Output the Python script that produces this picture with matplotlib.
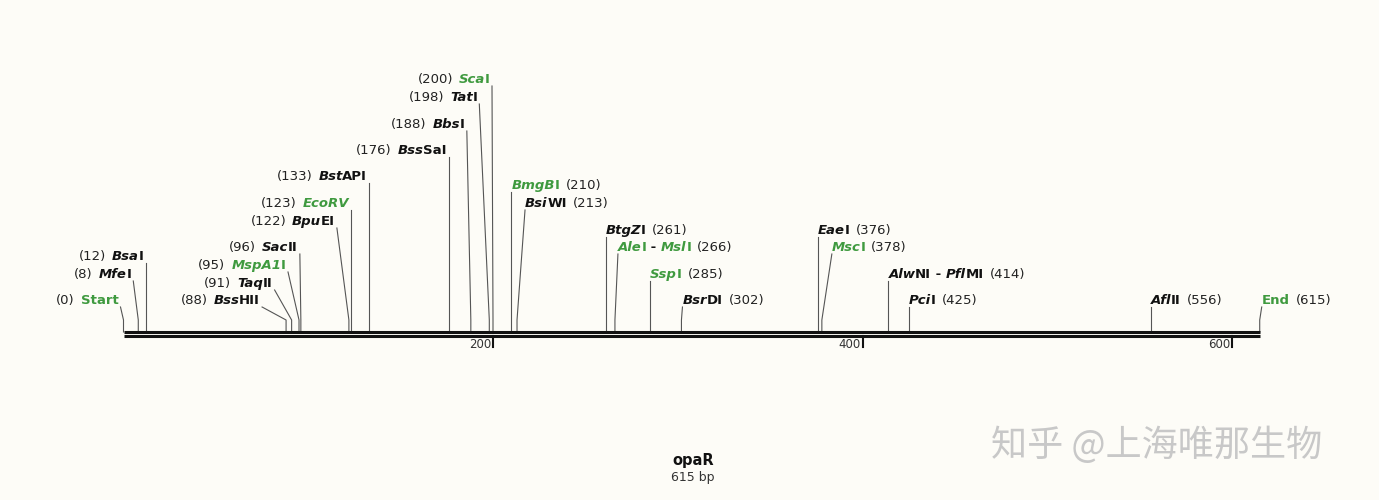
import matplotlib
matplotlib.use("Agg")
import matplotlib.pyplot as plt

seq_len = 615
seq_name = "opaR"
enzymes = ["Start", "Mfe|I", "Bsa|I", "Bss|HII", "Taq|II", "MspA1|I", "Sac|II", "Bpu|EI",
           "EcoRV|", "Bst|API", "Bss|SaI", "Bbs|I", "Tat|I", "Sca|I",
           "BmgB|I", "Bsi|WI", "BtgZ|I", "Ale|I;Msl|I", "Ssp|I", "Bsr|DI", "Eae|I", "Msc|I",
           "Alw|NI;Pfl|MI", "Pci|I", "Afl|II", "End"]
positions = [0, 8, 12, 88, 91, 95, 96, 122, 123, 133, 176, 188, 198, 200,
             210, 213, 261, 266, 285, 302, 376, 378, 414, 425, 556, 615]
label_y = [300, 274, 256, 300, 283, 265, 247, 221, 203, 176, 150, 124, 97, 79,
           185, 203, 230, 247, 274, 300, 230, 247, 274, 300, 300, 300]
sides = ["L"] * 14 + ["R"] * 12
green = [True, False, False, False, False, True, False, False, True, False, False, False, False, True,
         True, False, False, True, True, False, False, True, False, False, False, True]
shift = [-3, -5, 0, -24, -17, -11, -1, -12, 0, 0, 0, -4, -10, -1,
         0, 8, 0, 3, 0, 1, 0, 10, 0, 0, 0, 2]
ticks = [200, 400, 600]

GREEN = "#3f9a3f"
BG = "#fdfcf7"
fig = plt.figure(figsize=(13.79, 5.0), dpi=100, facecolor=BG)
ax = fig.add_axes([0, 0, 1, 1])
ax.set_facecolor(BG)
X0, K = 123.5, 1.8475
ax.set_xlim(-X0 / K, (1379 - X0) / K)
ax.set_ylim(500, 0)
ax.axis("off")
renderer = fig.canvas.get_renderer()
AX_Y = 332
FS = 9.5
GAP = 6

def px2bp(px):
    return (px - X0) / K

def parts_for(name, pos, side, col):
    parts = []
    if side == "L":
        parts.append((f"({pos})", "normal", "normal", "#222222"))
        parts.append(("gap", None, None, None))
    if name in ("Start", "End"):
        parts.append((name, "bold", "normal", col))
    else:
        for i, nm in enumerate(name.split(";")):
            if i > 0:
                parts.append((" - ", "bold", "normal", "#111111"))
            it, ro = nm.split("|")
            if it:
                parts.append((it, "bold", "italic", col))
            if ro:
                parts.append((ro, "bold", "normal", col))
    if side == "R":
        parts.append(("gap", None, None, None))
        parts.append((f"({pos})", "normal", "normal", "#222222"))
    return parts

def draw_label(parts, x_px, y, align):
    texts = []
    total = 0
    for s, w, st, c in parts:
        if s == "gap":
            texts.append(None); total += GAP; continue
        t = ax.text(0, y + 4, s, fontsize=FS, fontweight=w, fontstyle=st, color=c,
                    va="baseline", ha="left", family="DejaVu Sans")
        wd = t.get_window_extent(renderer).width
        if st == "italic":
            wd -= 0.3
        texts.append((t, wd)); total += wd
    x = x_px - total if align == "L" else x_px
    for item in texts:
        if item is None:
            x += GAP; continue
        t, wd = item
        t.set_x(px2bp(x)); x += wd

for name, pos, y, side, g, sh in zip(enzymes, positions, label_y, sides, green, shift):
    col = GREEN if g else "#111111"
    px = X0 + pos * K
    if side == "L":
        end = px + sh
        draw_label(parts_for(name, pos, side, col), end - 2, y, "L")
        ax.plot([px2bp(end), pos, pos], [y + 7, AX_Y - 12, AX_Y], color="#555555", lw=0.8)
    else:
        start = px + sh
        draw_label(parts_for(name, pos, side, col), start, y, "R")
        ax.plot([px2bp(start), pos, pos], [y + 7, AX_Y - 12, AX_Y], color="#555555", lw=0.8)

ax.plot([0, seq_len], [AX_Y, AX_Y], color="#111111", lw=2.2, solid_capstyle="butt")
ax.plot([0, seq_len], [AX_Y + 4, AX_Y + 4], color="#111111", lw=2.2, solid_capstyle="butt")
for tk in ticks:
    ax.plot([tk, tk], [AX_Y + 4, AX_Y + 15], color="#111111", lw=1.5)
    ax.text(tk - 1, AX_Y + 13, str(tk), fontsize=8.5, ha="right", va="center", color="#333333")

ax.text(px2bp(693), 460, seq_name, fontsize=10.5, fontweight="bold", ha="center", va="center", color="#111111")
ax.text(px2bp(693), 478, f"{seq_len} bp", fontsize=9, ha="center", va="center", color="#333333")
ax.text(px2bp(1157), 445, "知乎 @上海唯那生物", fontsize=26, ha="center", va="center",
        color="#c8c8c8", family=["Noto Sans CJK SC", "DejaVu Sans"])
fig.savefig("out.png", dpi=100, facecolor=BG)
